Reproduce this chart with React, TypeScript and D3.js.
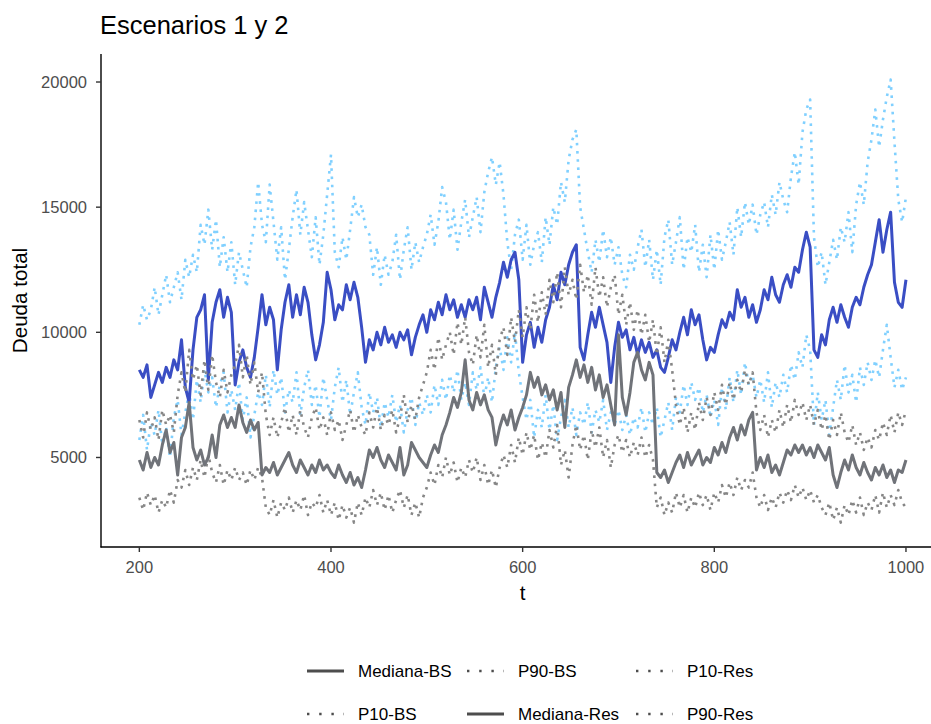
import React from 'react';
import * as d3 from 'd3';

// time index (every 4 periods)
const T: number[] = d3.range(200, 1001, 4);

const medianaBS = [
  8500, 8200, 8700, 7400, 7900, 8400, 8000, 8600, 8200, 8900, 8500, 9700, 7800, 7200, 9300, 10600, 10900, 11500, 8100, 10400, 11200, 11700, 10600, 11400, 10800,
  7900, 8800, 9300, 8600, 8200, 9000, 10200, 11500, 10300, 11000, 10500, 8500, 10100, 11200, 11900, 10600, 11500, 10700, 11800, 11200, 9900, 8900, 9500, 10400, 12400,
  11700, 10500, 11100, 10900, 11900, 11300, 12000, 11400, 10200, 8800, 9700, 9300, 10000, 9500, 10200, 9600, 9900, 9400, 10000, 9700, 10100, 9100, 9800, 10300, 10700,
  10000, 10900, 10500, 11200, 10700, 11500, 10900, 11300, 10600, 11100, 10600, 11300, 10900, 11400, 10500, 11800, 11200, 10600, 11400, 12000, 12800, 12200, 12900, 13200, 12100,
  8800, 9900, 10400, 9400, 10200, 9600, 10500, 11000, 11900, 11300, 12400, 11900, 12700, 13200, 13500, 9400, 8900, 9900, 10800, 10200, 11000, 10300, 9600, 8000, 9400,
  10400, 9800, 10100, 9300, 9800, 9100, 9700, 9200, 9600, 9000, 9300, 8600, 8400, 9000, 9700, 9300, 10000, 10600, 9900, 10900, 10300, 10700, 9700, 8900, 9400,
  9200, 9900, 10500, 10200, 10800, 10500, 11700, 11000, 11400, 10600, 11100, 10400, 10900, 11700, 11300, 12200, 11500, 11200, 11900, 12300, 11800, 12600, 12400, 13300, 14000,
  13400, 9300, 9000, 9900, 9500, 10500, 11000, 10400, 11100, 10600, 10200, 11000, 11400, 11100, 11800, 12300, 12700, 13600, 14500, 13200, 14100, 14800, 12000, 11200, 11000,
  12100,
];

const p90BS = [
  10300, 11100, 10500, 10900, 11800, 10700, 11500, 12300, 11200, 11800, 12400, 11300, 12900, 12200, 13100, 12400, 14300, 13500, 14900, 13300, 14500, 12600, 13800, 12400, 13600,
  11900, 13200, 12500, 11800, 13400, 14200, 16000, 14300, 13600, 15900, 14400, 12900, 14200, 12100, 13300, 14600, 15700, 13900, 15200, 14100, 13000, 14600, 12700, 13900, 15500,
  17100, 13200, 12600, 13800, 12900, 14100, 15400, 14600, 15100, 14200, 13900, 12300, 13400, 11900, 13100, 12300, 12800, 13900, 12100, 13300, 14200, 12500, 13600, 12800, 13400,
  13900, 14700, 13500, 14400, 15800, 15200, 13700, 14900, 13300, 14400, 15300, 13800, 14600, 15400, 14000, 15600, 16400, 17000, 15900, 16800, 15500, 13600, 12500, 13900, 14500,
  12900, 14300, 12700, 13500, 14000, 12800, 14600, 13500, 15000, 14300, 16000, 15200, 16900, 17700, 18100, 15000, 14100, 13200, 12400, 13700, 12800, 14100, 13000, 13800, 12700,
  13400, 12300, 11800, 13100, 12500, 13400, 14100, 12600, 13700, 12100, 13300, 11900, 13800, 14500, 12700, 13600, 14600, 12500, 13800, 13200, 14300, 12400, 13500, 12200, 13900,
  12500, 14100, 12900, 13600, 14400, 13100, 15000, 13800, 15200, 14300, 15100, 13900, 14700, 15200, 14200, 15500, 14700, 16000, 15300, 14800, 16200, 17200, 15900, 18000, 18900,
  19300, 13800, 12600, 13200, 11900, 12800, 13700, 12900, 14200, 13600, 14800, 13200, 15100, 16000, 15100, 16800, 17700, 18900, 17400, 18500, 19400, 20100, 17600, 15300, 14400,
  15400,
];

const p10BS = [
  5700, 6700, 5300, 6400, 5900, 6900, 5500, 6200, 5000, 6600, 7300, 5900, 6800, 7600, 6500, 8100, 7200, 8500, 7600, 8200, 7000, 7900, 8400, 6800, 7700,
  6900, 8000, 6500, 7400, 5800, 6700, 7600, 7100, 8300, 7000, 8500, 7500, 8200, 6800, 7700, 7200, 8400, 6700, 7800, 8500, 7100, 7900, 6600, 8200, 7300,
  6500, 7800, 8600, 7200, 8100, 6700, 7600, 8400, 7000, 6300, 7600, 6800, 7400, 6200, 7200, 6600, 7500, 6400, 7100, 6000, 6900, 7400, 6300, 7200, 6700,
  7500, 6800, 7900, 7100, 8100, 7300, 8300, 7600, 8500, 7300, 8000, 7100, 8400, 7700, 8600, 7400, 8200, 7200, 8600, 9400, 8500, 9800, 8800, 10000, 8400,
  7400, 6500, 7300, 5800, 6900, 6200, 7500, 6100, 7100, 5700, 6600, 7300, 6200, 7000, 5900, 6800, 6300, 7200, 6000, 6900, 6400, 7300, 6100, 6800, 6300,
  6900, 6100, 6700, 5900, 6600, 6200, 7000, 6000, 6800, 6300, 7000, 5800, 6500, 7200, 6100, 7400, 6800, 7900, 7100, 8000, 7300, 7800, 6800, 7500, 6600,
  7300, 6300, 7800, 6900, 8200, 7200, 8500, 7500, 8800, 7900, 8300, 7400, 8100, 7200, 8400, 7000, 8000, 7400, 8300, 7600, 8700, 8100, 9200, 8600, 9900,
  9300, 6300, 7600, 6500, 7300, 5900, 7000, 8100, 7300, 8700, 7600, 8300, 7200, 8600, 7900, 8800, 8100, 8900, 8200, 9300, 10300, 9000, 7800, 8500, 7700,
  8200,
];

const medianaRes = [
  4900, 4500, 5200, 4600, 5000, 4700, 5500, 6100, 5200, 5600, 4300, 5800, 6200, 7200, 5400, 4900, 5300, 4700, 5000, 5900, 5000, 6300, 6700, 6200, 6600,
  6200, 7100, 6400, 6000, 6500, 6100, 6400, 4300, 4600, 4400, 4800, 4300, 4600, 4900, 5200, 4700, 4400, 4900, 4600, 4300, 4700, 4400, 4900, 4500, 4700,
  4400, 4200, 4700, 4300, 4000, 4400, 3900, 4200, 3800, 4500, 5300, 5000, 5400, 4900, 4600, 5100, 4800, 4500, 5400, 4300, 4700, 5600, 5300, 5000, 4800,
  4600, 5100, 5500, 5200, 5900, 6300, 6800, 7400, 7000, 7600, 8900, 7300, 6900, 7600, 7100, 7500, 6900, 6600, 5500, 6200, 6700, 6300, 6900, 6100, 6600,
  7000, 7500, 8400, 7800, 8200, 7500, 7900, 7300, 7700, 6900, 7600, 6200, 7800, 8300, 8900, 8200, 8700, 8000, 8600, 7700, 8300, 7400, 7900, 7100, 6300,
  9900, 7400, 6700, 7600, 8800, 9200, 8500, 8100, 8800, 8300, 4400, 4200, 4500, 4000, 4400, 4800, 5100, 4600, 5200, 4700, 5000, 5300, 4700, 5000, 4800,
  5400, 5100, 5600, 5200, 5800, 6200, 5700, 6300, 5900, 6500, 6800, 4500, 5000, 4600, 5100, 4400, 4700, 4300, 4800, 5300, 5100, 5500, 5200, 5500, 5100,
  5400, 5000, 5500, 5200, 4900, 5400, 4300, 3800, 4400, 4900, 4500, 5100, 4600, 4300, 4800, 4400, 4100, 4600, 4300, 4700, 4200, 4500, 4000, 4500, 4400,
  4900,
];

const p90Res = [
  6500, 5800, 6800, 6100, 6600, 5700, 6900, 6300, 6700, 6000, 7500, 8400, 7600, 9300, 8100, 8700, 7500, 8900, 7700, 9100, 8000, 7400, 8500, 7600, 8300,
  8700, 9500, 8200, 9100, 7900, 8800, 7600, 8400, 6700, 5900, 6600, 5800, 6400, 7000, 6000, 6700, 5900, 6900, 6200, 5800, 6600, 7000, 6100, 6600, 5900,
  6800, 6100, 6500, 5700, 6300, 6900, 6000, 6700, 6200, 5900, 6800, 6200, 7000, 6100, 6700, 6300, 6900, 6000, 6600, 7500, 6400, 7100, 6500, 7400, 7900,
  8400, 9300, 8500, 9800, 8900, 9500, 10000, 9100, 10400, 9500, 10600, 9200, 8700, 9900, 9000, 10300, 8600, 9500, 8300, 9700, 10200, 9100, 10600, 9600, 10900,
  9800, 11000, 10100, 11500, 10400, 11600, 10700, 12100, 11200, 12400, 11000, 12600, 11500, 12100, 11300, 12700, 11600, 12300, 11100, 12600, 11400, 12200, 11000, 11800, 12300,
  10700, 11500, 10300, 11200, 10100, 10900, 9900, 10700, 9600, 10500, 9100, 10200, 8800, 9700, 8500, 7100, 6300, 7000, 6000, 6800, 6100, 7200, 6500, 7400, 6700,
  7600, 6900, 7900, 7100, 8000, 7300, 8100, 7600, 8500, 7900, 8400, 6800, 6100, 6700, 5800, 6500, 6000, 6900, 6200, 7100, 6400, 7300, 6700, 7200, 6500,
  7100, 6300, 6900, 6100, 6700, 5700, 6500, 5900, 6800, 6000, 5600, 6300, 5500, 6000, 5300, 5800, 5400, 6100, 5700, 6400, 5900, 6700, 6000, 6800, 6300,
  6900,
];

const p10Res = [
  3400, 2900, 3600, 3100, 3500, 2800, 3300, 3000, 3700, 3200, 4100, 3800, 4500, 3900, 4600, 4100, 4900, 4200, 5100, 4400, 4000, 4700, 3900, 4500, 4100,
  4600, 4100, 4400, 3900, 4500, 4100, 4600, 4200, 3000, 2700, 3300, 2600, 3200, 2900, 3400, 2800, 3300, 2900, 3500, 2700, 3200, 3000, 3500, 2800, 3300,
  2700, 3200, 2500, 3100, 2600, 3000, 2400, 3200, 2700, 3400, 3000, 3700, 3100, 3600, 2900, 3500, 2800, 3300, 3700, 3000, 3500, 2700, 3200, 2600, 3400,
  3800, 4400, 3900, 4700, 4200, 5000, 4300, 4800, 4000, 4600, 4200, 4900, 4400, 5000, 4100, 4700, 3900, 4500, 3800, 4600, 5100, 4600, 5500, 4800, 5800,
  5100, 6000, 5300, 5900, 4900, 5600, 5000, 6100, 5400, 6300, 4700, 5300, 4200, 5500, 6300, 5300, 5900, 4900, 6100, 5400, 6200, 5000, 5700, 4600, 5500,
  5900, 5200, 5700, 5000, 5600, 5100, 5800, 5000, 5500, 4900, 3000, 3400, 2700, 3200, 2800, 3600, 3000, 3500, 2800, 3400, 3000, 3600, 3100, 3500, 2900,
  3600, 3200, 3900, 3400, 4000, 3500, 4200, 3700, 4100, 3800, 4400, 3400, 3000, 3500, 2900, 3400, 3000, 3600, 3200, 3700, 3300, 3900, 3400, 3800, 3300,
  3700, 3200, 3500, 3000, 2700, 3200, 2500, 3000, 2400, 3100, 2700, 3300, 2800, 3400, 2700, 3200, 2900, 3500, 2800, 3600, 3000, 3500, 3100, 3700, 3200,
  3000,
];

const xTicks = [200, 400, 600, 800, 1000];
const yTicks = [5000, 10000, 15000, 20000];

const title = 'Escenarios 1 y 2';
const xTitle = 't';
const yTitle = 'Deuda total';

const series = [
  { name: 'P90-BS', values: p90BS, color: '#80D0FF', dotted: true },
  { name: 'P10-BS', values: p10BS, color: '#80D0FF', dotted: true },
  { name: 'Mediana-BS', values: medianaBS, color: '#3A4EC4', dotted: false },
  { name: 'P90-Res', values: p90Res, color: '#868686', dotted: true },
  { name: 'P10-Res', values: p10Res, color: '#868686', dotted: true },
  { name: 'Mediana-Res', values: medianaRes, color: '#707379', dotted: false },
];

// legend order (row-wise, 3 columns)
const legendOrder = ['Mediana-BS', 'P90-BS', 'P10-Res', 'P10-BS', 'Mediana-Res', 'P90-Res'];

export default function App() {
  const W = 931;
  const H = 724;
  const left = 101;
  const bottom = 547;
  const top = 54;
  const right = 944.3;
  const x = d3.scaleLinear().domain([160, 1040]).range([left, right]);
  const y = d3.scaleLinear().domain([1424, 21119]).range([bottom, top]);
  const lineGen = d3
    .line<number>()
    .x((_, i) => x(T[i]))
    .y((d) => y(d));

  const font = "'Liberation Sans', Arial, Helvetica, sans-serif";
  const tickFs = 16.5;
  const legendFs = 17;

  const legendColX = [307, 467, 636];
  const legendRowY = [671, 714];

  return (
    <svg
      width={W}
      height={H}
      style={{ position: 'absolute', left: 0, top: 0, background: '#fff' }}
      fontFamily={font}
    >
      <rect x={0} y={0} width={W} height={H} fill="#fff" />
      {series.map((s) => (
        <path
          key={s.name}
          d={lineGen(s.values) || ''}
          fill="none"
          stroke={s.color}
          strokeWidth={s.dotted ? 2.6 : 3}
          strokeDasharray={s.dotted ? '2.6 5.6' : undefined}
          strokeLinejoin="round"
        />
      ))}
      {/* axes */}
      <line x1={left} x2={left} y1={top} y2={bottom + 0.5} stroke="#000" strokeWidth={1.4} />
      <line x1={left - 0.5} x2={W} y1={bottom} y2={bottom} stroke="#000" strokeWidth={1.4} />
      {xTicks.map((t) => (
        <g key={t}>
          <line x1={x(t)} x2={x(t)} y1={bottom} y2={bottom + 5} stroke="#333" strokeWidth={1.4} />
          <text x={x(t)} y={573} textAnchor="middle" fontSize={tickFs} fill="#4d4d4d">
            {t}
          </text>
        </g>
      ))}
      {yTicks.map((v) => (
        <g key={v}>
          <line x1={left - 5} x2={left} y1={y(v)} y2={y(v)} stroke="#333" strokeWidth={1.4} />
          <text x={87} y={y(v) + 6} textAnchor="end" fontSize={tickFs} fill="#4d4d4d">
            {v}
          </text>
        </g>
      ))}
      <text x={(left + right) / 2} y={600} textAnchor="middle" fontSize={20.6} fill="#000">
        {xTitle}
      </text>
      <text
        transform={`translate(${27},${(top + bottom) / 2}) rotate(-90)`}
        textAnchor="middle"
        fontSize={20.6}
        fill="#000"
      >
        {yTitle}
      </text>
      <text x={100} y={34} fontSize={25.5} fill="#000">
        {title}
      </text>
      {legendOrder.map((name, i) => {
        const s = series.find((d) => d.name === name)!;
        const col = i % 3;
        const row = Math.floor(i / 3);
        const lx = legendColX[col];
        const ly = legendRowY[row];
        return (
          <g key={name}>
            <line
              x1={lx}
              x2={lx + 37}
              y1={ly}
              y2={ly}
              stroke="#4d4d4d"
              strokeWidth={s.dotted ? 2.4 : 3}
              strokeDasharray={s.dotted ? '2.4 9.8' : undefined}
            />
            <text x={lx + 51} y={ly + 5.5} fontSize={legendFs} fill="#000">
              {name}
            </text>
          </g>
        );
      })}
    </svg>
  );
}
